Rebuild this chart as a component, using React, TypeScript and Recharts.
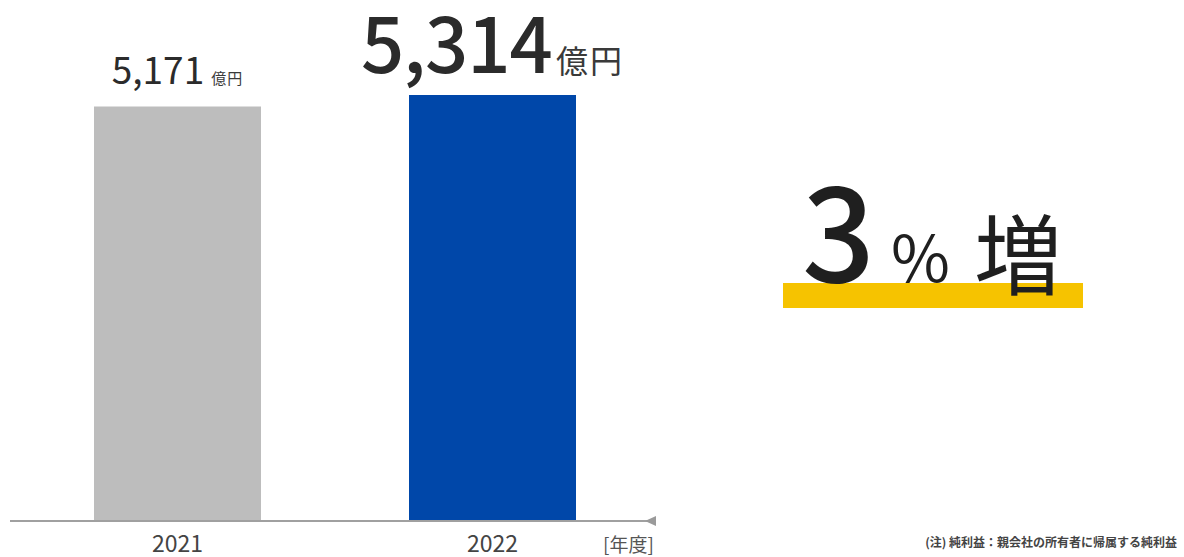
import { BarChart, Bar, XAxis, YAxis, Cell, LabelList } from "recharts";

const years = ["2021", "2022"];
const profits = [5171, 5314];
const unit = "億円";
const growthLabel = "3";
const growthUnit = "%";
const growthWord = "増";
const axisUnit = "[年度]";
const footnote = "(注) 純利益：親会社の所有者に帰属する純利益";

const data = years.map((year, i) => ({ year, value: profits[i] }));

const FONT = '"Noto Sans CJK JP", "Noto Sans", sans-serif';
const barColors = ["#bdbdbd", "#0047a9"];

const ValueLabel = (props: any) => {
  const { x, y, width, value, index } = props;
  const big = index === profits.length - 1;
  return (
    <text
      x={x + width / 2}
      y={y - 22}
      textAnchor="middle"
      fontFamily={FONT}
      fill="#2b2b2b"
    >
      <tspan fontSize={big ? 76 : 37} fontWeight={big ? 500 : 400} letterSpacing={big ? -1 : 0}>
        {value.toLocaleString("en-US")}
      </tspan>
      <tspan
        fontSize={big ? 32 : 15}
        dx={big ? 4 : 7}
        fill="#3a3a3a"
        letterSpacing={big ? 2 : 1}
      >
        {unit}
      </tspan>
    </text>
  );
};

export default function App() {
  return (
    <div
      style={{
        position: "absolute",
        left: 0,
        top: 0,
        width: 1184,
        height: 557,
        background: "#fff",
        fontFamily: FONT,
      }}
    >
      <BarChart
        width={1184}
        height={557}
        data={data}
        margin={{ top: 80, right: 529, bottom: 6, left: 10 }}
      >
        <XAxis
          dataKey="year"
          padding={{ left: 10, right: 5 }}
          axisLine={{ stroke: "#a0a0a0", strokeWidth: 2 }}
          tickLine={false}
          tickSize={0}
          tickMargin={15}
          height={30}
          tick={{ fontSize: 23, fill: "#444", fontFamily: FONT }}
        />
        <YAxis hide domain={[0, 5500]} />
        <Bar dataKey="value" barSize={167} isAnimationActive={false}>
          {data.map((d, i) => (
            <Cell key={d.year} fill={barColors[i]} />
          ))}
          <LabelList dataKey="value" content={ValueLabel} />
        </Bar>
      </BarChart>
      <svg
        width={1184}
        height={557}
        style={{ position: "absolute", left: 0, top: 0, pointerEvents: "none" }}
      >
        <polygon points="645,521 656,516 656,526" fill="#9a9a9a" />
        <text x={603} y={552} fontSize={19} fill="#555" fontFamily={FONT}>
          {axisUnit}
        </text>
        <rect x={783} y={283} width={300} height={25} fill="#f6c300" />
        <text x={802} y={282} fontFamily={FONT} fill="#1f1f1f">
          <tspan fontSize={128} fontWeight={500}>{growthLabel}</tspan>
          <tspan fontSize={64} dx={16}>{growthUnit}</tspan>
          <tspan fontSize={88} fontWeight={400} dx={24} dy={6}>{growthWord}</tspan>
        </text>
        <text
          x={1177}
          y={547}
          textAnchor="end"
          fontSize={12}
          fontWeight={700}
          fill="#444"
          fontFamily={FONT}
        >
          {footnote}
        </text>
      </svg>
    </div>
  );
}
